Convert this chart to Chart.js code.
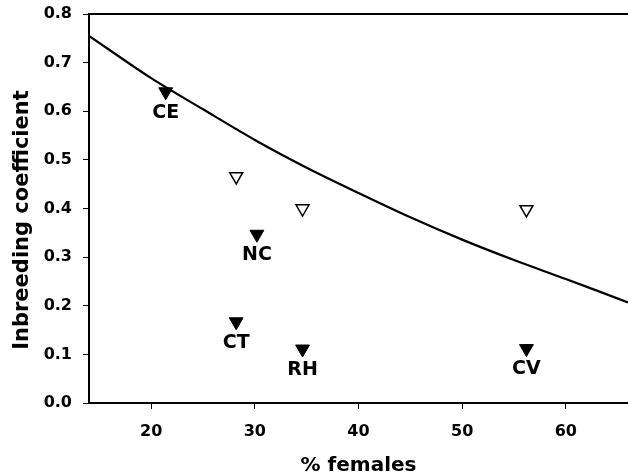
<!DOCTYPE html>
<html>
<head>
<meta charset="utf-8">
<script src="https://cdn.jsdelivr.net/npm/chart.js@4/dist/chart.umd.min.js"></script>
<style>
  html, body { margin: 0; padding: 0; background: #fff; }
  #wrap { width: 628px; height: 476px; position: relative; }
</style>
</head>
<body>
<div id="wrap"><canvas id="chart"></canvas></div>
<script>
// fitted curve
let curveX = [14, 20, 25, 30, 35, 40, 45, 50, 55, 60, 66];
let curveF = [0.755, 0.668, 0.604, 0.541, 0.484, 0.432, 0.382, 0.336, 0.294, 0.255, 0.207];

// filled triangles (labelled populations)
let popNames = ['CE', 'NC', 'CT', 'RH', 'CV'];
let popFemales = [21.4, 30.2, 28.2, 34.6, 56.2];
let popF = [0.640, 0.347, 0.167, 0.111, 0.112];

// open triangles
let openFemales = [28.2, 34.6, 56.2];
let openF = [0.466, 0.400, 0.398];

let xTicks = [20, 30, 40, 50, 60];
let yTicks = [0, 0.1, 0.2, 0.3, 0.4, 0.5, 0.6, 0.7, 0.8];
let yTitle = 'Inbreeding coefficient';

let font = 'DejaVu Sans';

let toPoints = (xs, ys) => xs.map((x, i) => ({ x: x, y: ys[i] }));

// names under the filled triangles, top frame line, y title
let extras = {
  id: 'extras',
  afterDatasetsDraw(chart) {
    let ctx = chart.ctx;
    let meta = chart.getDatasetMeta(0);
    ctx.save();
    ctx.fillStyle = '#000';
    ctx.font = 'bold 19px ' + font;
    ctx.textAlign = 'center';
    ctx.textBaseline = 'middle';
    meta.data.forEach((pt, i) => {
      ctx.fillText(popNames[i], pt.x, pt.y + 21);
    });
    let a = chart.chartArea;
    ctx.strokeStyle = '#000';
    ctx.lineWidth = 2;
    ctx.beginPath();
    ctx.moveTo(a.left, a.top);
    ctx.lineTo(a.right, a.top);
    ctx.stroke();

    ctx.translate(28, 220);
    ctx.rotate(-Math.PI / 2);
    ctx.font = 'bold 21px ' + font;
    ctx.textBaseline = 'alphabetic';
    ctx.fillText(yTitle, 0, 0);
    ctx.restore();
  }
};

new Chart(document.getElementById('chart'), {
  type: 'scatter',
  data: {
    datasets: [
      {
        data: toPoints(popFemales, popF),
        pointStyle: 'triangle',
        rotation: 180,
        pointRadius: 8,
        pointHoverRadius: 8,
        backgroundColor: '#000',
        borderColor: '#000',
        borderWidth: 1,
      },
      {
        data: toPoints(openFemales, openF),
        pointStyle: 'triangle',
        rotation: 180,
        pointRadius: 7.5,
        pointHoverRadius: 7.5,
        backgroundColor: '#fff',
        borderColor: '#000',
        borderWidth: 1.5,
      },
      {
        data: toPoints(curveX, curveF),
        showLine: true,
        pointRadius: 0,
        borderColor: '#000',
        borderWidth: 2.2,
        tension: 0.3,
        fill: false,
      },
    ],
  },
  options: {
    responsive: true,
    maintainAspectRatio: false,
    animation: false,
    events: [],
    layout: { autoPadding: false, padding: { top: 14, right: 0, left: 0, bottom: 0 } },
    plugins: {
      legend: { display: false },
      tooltip: { enabled: false },
    },
    scales: {
      x: {
        type: 'linear',
        min: 14,
        max: 66,
        afterBuildTicks: (s) => { s.ticks = xTicks.map(v => ({ value: v })); },
        afterFit: (s) => { s.height = 73; s.paddingLeft = 0; s.paddingRight = 0; },
        grid: { drawOnChartArea: false, drawTicks: true, tickLength: 6, color: '#000', lineWidth: 1 },
        border: { display: true, color: '#000', width: 2 },
        ticks: { color: '#000', padding: 13, maxRotation: 0, font: { family: font, size: 16, weight: 'bold' } },
        title: {
          display: true,
          text: '% females',
          color: '#000',
          padding: 0,
          font: { family: font, size: 20, weight: 'bold', lineHeight: 1 },
        },
      },
      y: {
        type: 'linear',
        min: 0,
        max: 0.8,
        afterBuildTicks: (s) => { s.ticks = yTicks.map(v => ({ value: v })); },
        afterFit: (s) => { s.width = 89; s.paddingTop = 0; s.paddingBottom = 0; },
        grid: { drawOnChartArea: false, drawTicks: true, tickLength: 6, color: '#000', lineWidth: 1 },
        border: { display: true, color: '#000', width: 2 },
        ticks: {
          color: '#000',
          padding: 11,
          font: { family: font, size: 16, weight: 'bold' },
          callback: (v) => Number(v).toFixed(1),
        },
        title: { display: false },
      },
    },
  },
  plugins: [extras],
});
</script>
</body>
</html>
